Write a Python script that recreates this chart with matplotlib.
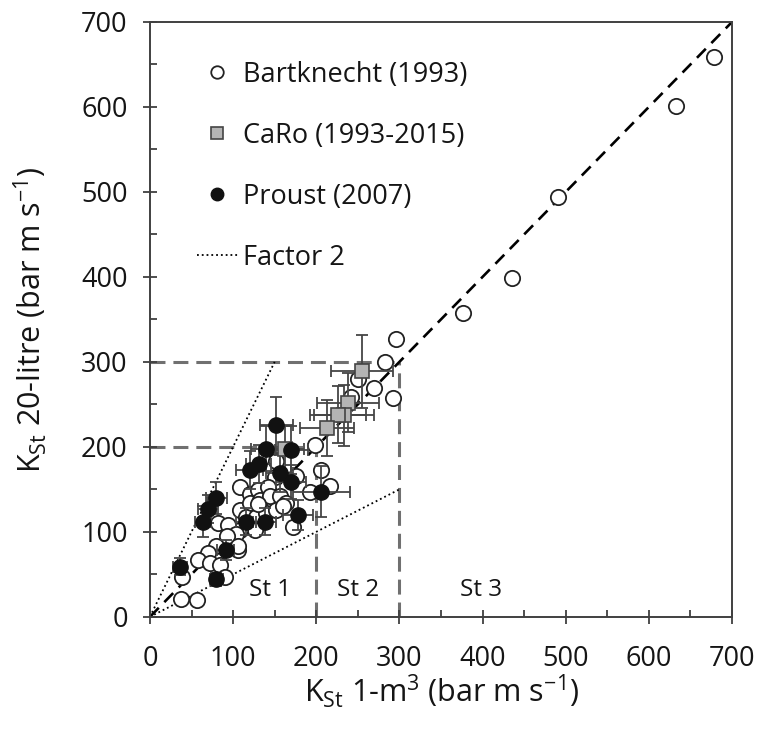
import numpy as np
import matplotlib
matplotlib.use("Agg")
import matplotlib.pyplot as plt
from matplotlib.lines import Line2D
from matplotlib.ticker import MultipleLocator

plt.rcParams['font.family'] = ['Open Sans', 'DejaVu Sans']
plt.rcParams['mathtext.fontset'] = 'custom'
plt.rcParams['mathtext.rm'] = 'Open Sans'

# -----------------------------
# Data
# -----------------------------
bart_x = [678, 633, 491, 435, 376, 296, 283, 269, 292, 250, 242, 199, 206, 217, 192, 172, 152, 176, 150,
          108, 120, 130, 142, 108, 120, 132, 144, 156, 164, 116, 128, 140, 152, 160, 126, 108, 100, 106, 130,
          82, 94, 104, 93, 80, 106, 70, 58, 72, 84, 90, 38, 37, 57]
bart_y = [659, 601, 494, 399, 358, 327, 300, 269, 258, 280, 259, 202, 173, 154, 147, 106, 183, 166, 164,
          153, 145, 149, 153, 126, 134, 138, 142, 142, 134, 118, 118, 122, 126, 130, 102, 102, 94, 79, 133,
          110, 108, 98, 95, 83, 83, 75, 67, 63, 61, 47, 47, 21, 20]

caro_x = [255, 238, 233, 226, 213, 163]
caro_y = [289, 252, 237, 238, 222, 197]
caro_xerr = [37, 37, 36, 34, 32, 22]
caro_yerr = [43, 35, 36, 34, 33, 28]

pro_x = [36, 80, 91, 64, 70, 80, 115, 138, 120, 131, 140, 152, 170, 156, 170, 178, 206]
pro_y = [59, 44, 79, 112, 127, 140, 112, 112, 173, 180, 198, 226, 196, 169, 159, 120, 147]
pro_xerr = [8, 8, 10, 10, 12, 13, 12, 14, 16, 15, 18, 20, 20, 16, 18, 18, 34]
pro_yerr = [10, 8, 12, 18, 16, 19, 16, 16, 22, 22, 26, 33, 28, 22, 20, 18, 30]

classes = ["St 1", "St 2", "St 3"]
class_x = [144, 250, 398]

# -----------------------------
# Plot
# -----------------------------
fig = plt.figure(figsize=(7.61, 7.30), dpi=100)
ax = fig.add_axes([0.197, 0.155, 0.765, 0.815])

grey = '#707070'
txt = '#151515'
# class boundaries
ax.plot([0, 300], [300, 300], color=grey, lw=2.2, dashes=(4.9, 2.6), zorder=1)
ax.plot([0, 200], [200, 200], color=grey, lw=2.2, dashes=(4.9, 2.6), zorder=1)
ax.plot([200, 200], [0, 200], color=grey, lw=2.2, dashes=(4.9, 2.6), zorder=1)
ax.plot([300, 300], [0, 300], color=grey, lw=2.2, dashes=(4.9, 2.6), zorder=1)

# factor 2 lines
ax.plot([0, 150], [0, 300], color='black', lw=1.3, ls=':', zorder=1)
ax.plot([0, 300], [0, 150], color='black', lw=1.3, ls=':', zorder=1)

# 1:1 line
ax.plot([0, 700], [0, 700], color='black', lw=1.9, dashes=(4.8, 3.0), zorder=2)

ax.plot(bart_x, bart_y, 'o', ms=11, mfc='white', mec='#222222', mew=1.3, zorder=3)

ax.errorbar(caro_x, caro_y, xerr=caro_xerr, yerr=caro_yerr, fmt='none',
            ecolor='#454545', elinewidth=1.3, capsize=4, capthick=1.3, zorder=4)
ax.errorbar(pro_x, pro_y, xerr=pro_xerr, yerr=pro_yerr, fmt='none',
            ecolor='#454545', elinewidth=1.3, capsize=4, capthick=1.3, zorder=4)
ax.plot(caro_x, caro_y, 's', ms=10.5, mfc='#b4b4b4', mec='#444444', mew=1.2, zorder=5)
ax.plot(pro_x, pro_y, 'o', ms=11, mfc='#111111', mec='#111111', zorder=6)

for lab, cx in zip(classes, class_x):
    ax.text(cx, 32, lab, ha='center', va='center', fontsize=17.5, color=txt)

ax.set_xlim(0, 700)
ax.set_ylim(0, 700)
ax.xaxis.set_major_locator(MultipleLocator(100))
ax.yaxis.set_major_locator(MultipleLocator(100))
ax.xaxis.set_minor_locator(MultipleLocator(50))
ax.yaxis.set_minor_locator(MultipleLocator(50))
ax.tick_params(which='major', direction='inout', length=10, width=1.3, color='#404040',
               labelsize=19.5, labelcolor=txt)
ax.tick_params(axis='x', which='major', pad=15)
ax.tick_params(axis='y', which='major', pad=11)
ax.tick_params(which='minor', direction='in', length=5, width=1.3, color='#404040')
for sp in ax.spines.values():
    sp.set_color('#404040')
    sp.set_linewidth(1.4)

ax.set_xlabel(r'K$_\mathregular{St}$ 1-m$^\mathregular{3}$ (bar m s$^\mathregular{-1}$)',
              fontsize=22, color=txt)
ax.set_ylabel(r'K$_\mathregular{St}$ 20-litre (bar m s$^\mathregular{-1}$)',
              fontsize=22, color=txt)
ax.xaxis.set_label_coords(0.5, -0.125)
ax.xaxis.label.set_va('center')
ax.yaxis.set_label_coords(-0.205, 0.5)
ax.yaxis.label.set_va('center')

handles = [
    Line2D([], [], ls='none', marker='o', ms=9, mfc='white', mec='#222222', mew=1.3),
    Line2D([], [], ls='none', marker='s', ms=8.5, mfc='#b4b4b4', mec='#444444', mew=1.2),
    Line2D([], [], ls='none', marker='o', ms=9, mfc='#111111', mec='#111111'),
    Line2D([], [], color='black', lw=1.3, ls=':'),
]
labels = ["Bartknecht (1993)", "CaRo (1993-2015)", "Proust (2007)", "Factor 2"]
leg = ax.legend(handles, labels, loc='upper left', bbox_to_anchor=(0.081, 0.935), frameon=False,
                fontsize=19.5, labelspacing=1.22, handlelength=1.5, handletextpad=0.2,
                borderpad=0, borderaxespad=0)
for t in leg.get_texts():
    t.set_color(txt)

fig.savefig("out.png", dpi=100)
